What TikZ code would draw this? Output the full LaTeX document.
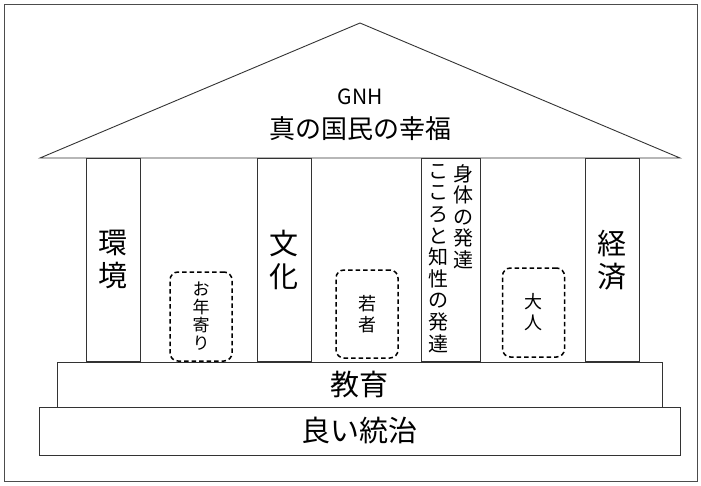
\documentclass[tikz,border=0pt]{standalone}
\usepackage{fontspec}
\newfontfamily\jp{Noto Sans CJK JP}
\begin{document}
\begin{tikzpicture}[x=1pt,y=-1pt,
  line/.style={draw=black!80,line width=0.9pt},
  pillar/.style={line,fill=white,inner sep=0pt,minimum width=#1,minimum height=203pt,anchor=north west,align=center,font=\jp\fontsize{29}{33}\selectfont},
  dbox/.style={draw=black,line width=1.5pt,dash pattern=on 4.5pt off 3pt,rounded corners=8pt,inner sep=0pt,minimum width=62pt,minimum height=89pt,align=center},
  base/.style={line,inner sep=0pt,font=\jp\fontsize{29}{33}\selectfont},
  vtext/.style={align=center,inner sep=0pt,anchor=north,font=\jp\fontsize{20}{21.6}\selectfont}]
\useasboundingbox (0,0) rectangle (701,485);
\draw[draw=black!70,line width=1pt] (4,4) rectangle (697,481);
% roof
\coordinate (rl) at (40,158);
\coordinate (apex) at (360,23);
\coordinate (rr) at (680,158);
\draw[line] (rl) -- (apex) -- (rr) -- cycle;
\node[font=\jp\fontsize{21}{22}\selectfont] (gnh) at (360,97) {GNH};
\node[font=\jp\fontsize{26}{28}\selectfont] (happy) at (360,129) {真の国民の幸福};
% pillars
\node[pillar=54pt] (p1) at (86,158) {環\\境};
\node[pillar=54pt] (p2) at (257,158) {文\\化};
\node[pillar=59pt] (p3) at (421,158) {};
\node[pillar=54pt] (p4) at (585,158) {経\\済};
\node[vtext] (t3a) at (463,164) {身\\体\\の\\発\\達};
\node[vtext] (t3b) at (438,164) {こ\\こ\\ろ\\と\\知\\性\\の\\発\\達};
% dashed groups
\node[dbox,font=\jp\fontsize{17}{18}\selectfont] (b1) at (201,316.5) {お\\年\\寄\\り};
\node[dbox,minimum height=88pt,font=\jp\fontsize{18}{21}\selectfont] (b2) at (367,314) {若\\者};
\node[dbox,minimum height=89pt,font=\jp\fontsize{18}{21}\selectfont] (b3) at (533.5,312.5) {大\\人};
% bases
\node[base,minimum width=605pt,minimum height=45pt] (edu) at (359.5,384.5) {教育};
\node[base,minimum width=641pt,minimum height=48pt] (gov) at (359.5,431) {良い統治};
\end{tikzpicture}
\end{document}
